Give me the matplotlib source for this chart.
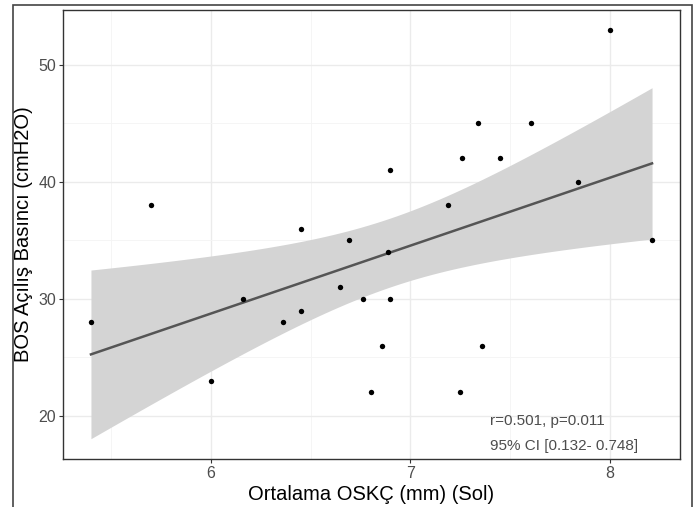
import numpy as np
import matplotlib
matplotlib.use("Agg")
import matplotlib.pyplot as plt
from matplotlib.patches import Rectangle
from matplotlib.ticker import MultipleLocator

plt.rcParams["font.family"] = ["Liberation Sans", "DejaVu Sans"]

# ortalama OSKC (mm) vs BOS acilis basinci
oskc = [5.4, 5.7, 6.0, 6.16, 6.36, 6.45, 6.45, 6.645, 6.69, 6.76, 6.80, 6.857,
        6.89, 6.90, 6.90, 7.19, 7.25, 7.26, 7.34, 7.36, 7.45, 7.605, 7.84, 8.0, 8.21]
bos = [28, 38, 23, 30, 28, 36, 29, 31, 35, 30, 22, 26,
       34, 41, 30, 38, 22, 42, 45, 26, 42, 45, 40, 53, 35]
stat_lines = ["r=0.501, p=0.011", "95% CI [0.132- 0.748]"]

x = np.array(oskc)
y = np.array(bos)
n = len(x)
slope, intercept = np.polyfit(x, y, 1)
xs = np.linspace(x.min(), x.max(), 80)
fit = intercept + slope * xs
resid = y - (intercept + slope * x)
s = np.sqrt(np.sum(resid ** 2) / (n - 2))
t_crit = 2.0687  # t(0.975, df=23)
se = s * np.sqrt(1 / n + (xs - x.mean()) ** 2 / np.sum((x - x.mean()) ** 2))

fig = plt.figure(figsize=(6.96, 5.07), dpi=100)
ax = fig.add_axes([63 / 696, 1 - 459 / 507, 617 / 696, 449 / 507])

ax.fill_between(xs, fit - t_crit * se, fit + t_crit * se, color="#d4d4d4", lw=0, zorder=2)
ax.plot(xs, fit, color="#555555", lw=1.8, zorder=3)
ax.scatter(x, y, s=15, color="black", zorder=4, linewidths=0)

ax.set_xlim(5.26, 8.35)
ax.set_ylim(16.3, 54.7)
ax.xaxis.set_major_locator(MultipleLocator(1))
ax.xaxis.set_minor_locator(MultipleLocator(0.5))
ax.yaxis.set_major_locator(MultipleLocator(10))
ax.yaxis.set_minor_locator(MultipleLocator(5))
ax.grid(which="major", color="#ebebeb", lw=1.0, zorder=0)
ax.grid(which="minor", color="#f4f4f4", lw=0.6, zorder=0)
ax.set_axisbelow(True)
ax.tick_params(which="major", length=3, width=0.8, color="#333333",
               labelsize=11.5, labelcolor="#4d4d4d", pad=2)
ax.tick_params(which="minor", length=0)
for sp in ax.spines.values():
    sp.set_color("#333333")
    sp.set_linewidth(1.0)

ax.set_xlabel("Ortalama OSKÇ (mm) (Sol)", fontsize=14.5, labelpad=3)
ax.set_ylabel("BOS Açılış Basıncı (cmH2O)", fontsize=14.5, labelpad=4)

ax.text(7.40, 19.55, stat_lines[0], fontsize=11, color="#4d4d4d", va="center")
ax.text(7.40, 17.45, stat_lines[1], fontsize=11, color="#4d4d4d", va="center")

frame = Rectangle((13 / 696, -0.1), (692 - 13) / 696, 1.1 - 4.5 / 507,
                  transform=fig.transFigure, fill=False, ec="#444444", lw=1.2)
fig.patches.append(frame)

fig.savefig("out.png", dpi=100)
